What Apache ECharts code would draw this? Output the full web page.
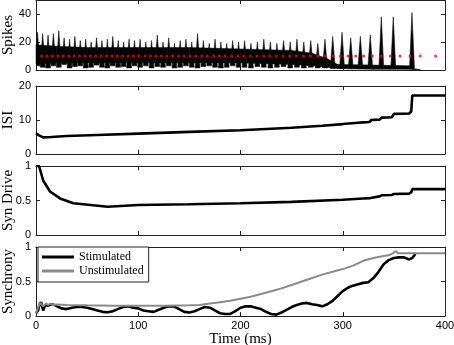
<!DOCTYPE html>
<html>
<head>
<meta charset="utf-8">
<script src="https://cdn.jsdelivr.net/npm/echarts@6/dist/echarts.min.js"></script>
<style>
  html, body { margin: 0; padding: 0; background: #fff; }
  #chart { width: 454px; height: 345px; }
</style>
</head>
<body>
<div id="chart"></div>
<script>
// ---- Spikes panel ----
// one entry per population burst: time (ms), peak count, floor next to it
const spikePeakT = [1.5, 6.5, 11.8, 17, 22.3, 27.5, 32.8, 38, 43.3, 48.6, 53.9, 59.2, 64.5, 69.8, 75.1, 80.4, 85.7, 91, 96.3,
  101.8, 107.4, 113, 118.6, 124.2, 129.8, 135.4, 141, 146.6, 152.3, 158, 163.7, 169.4, 175.1, 180.8, 186.5, 192.3, 198.1,
  204, 210.2, 216.5, 222.8, 229.2, 235.6, 242.1, 248.6, 255.2, 261.9, 268.7, 275.6, 282.6, 290.2,
  299.3, 307.8, 317.2, 326.9, 337.7, 349.4, 367.7];
const spikePeakV = [27, 26, 25, 26, 28, 23, 22, 24, 21, 22, 20, 23, 21, 22, 24, 21, 20, 22, 21,
  22, 20, 21, 25, 20, 23, 19, 21, 22, 20, 26, 21, 19, 22, 20, 19, 21, 20,
  21, 19, 20, 22, 20, 19, 21, 20, 22, 20, 21, 19, 22, 24,
  27, 23, 24, 25, 38, 38, 41];
const spikeBase = [3, 2, 1.5, 3, 2, 4, 1.5, 2.5, 3, 1.5, 2, 3.5, 2, 1.5, 3, 2, 2.5, 1.5, 3,
  2, 3, 1.5, 2.5, 2, 3, 1.5, 2, 3, 2, 1.5, 2.5, 3, 2, 1.5, 2, 3, 2,
  2, 1.5, 2.5, 2, 1.5, 2, 2.5, 1.5, 2, 1.5, 2, 1.5, 1.5, 1,
  1, 1, 1, 1, 1, 1, 1];
const spikeTailT = [371, 376];
const spikeTailV = [0.8, 0];
// dense noisy band of the raster
const bandT = [0, 20, 50, 100, 150, 200, 250, 270, 285, 295, 330, 365, 372];
const bandLo = [4, 5, 5, 5, 5, 5, 4, 3, 2, 1, 0.5, 0.5, 0];
const bandHi = [18, 17, 16, 16, 16, 15, 14, 12, 8, 4, 3.5, 3, 0];
// red threshold markers
const dotT = [5.5, 10.8, 16.1, 21.4, 26.7, 32, 37.2, 42.5, 47.8, 53.1, 58.4, 63.7, 69, 74.3, 79.5, 84.8, 90.1, 95.4,
  100.7, 106.6, 112.1, 117.3, 122.5, 128.1, 133.6, 139.2, 144.7, 150.6, 156.2, 162.1, 167.5, 173.8, 179.3, 184.8, 191.4,
  197.6, 203.2, 209.6, 216.1, 222.7, 228.6, 235.1, 241.6, 248.2, 254.6, 261.5, 268.3, 275.5, 283, 290.5, 297.6,
  305.1, 312.7, 320.5, 328.9, 337.7, 346.5, 356, 365.8, 375.8, 390.9];
const dotLevel = 10;

// ---- ISI panel ----
const isiT = [0, 3, 7, 15, 30, 60, 100, 150, 200, 250, 280, 300, 315, 320, 326, 328, 336, 338, 348, 350, 365, 367, 368, 400];
const isiV = [6.1, 5.5, 4.9, 5.0, 5.3, 5.6, 6.0, 6.5, 7.0, 7.7, 8.3, 8.8, 9.2, 9.3, 9.4, 10.0, 10.1, 10.7, 10.8, 11.8, 11.9, 12.5, 17.2, 17.2];

// ---- Syn Drive panel ----
const synT = [0, 3, 7, 13.7, 23.5, 36.5, 56, 70, 100, 150, 200, 250, 300, 320, 327, 328, 336, 338, 348, 350, 365, 367, 368, 400];
const synV = [1, 1, 0.79, 0.63, 0.53, 0.46, 0.43, 0.41, 0.435, 0.445, 0.46, 0.48, 0.51, 0.53, 0.535, 0.545, 0.56, 0.575, 0.58, 0.595, 0.6, 0.62, 0.665, 0.665];

// ---- Synchrony panel ----
const stimT = [0, 2, 3.5, 5, 7, 9, 12, 15, 18, 22, 25, 30, 35, 40, 45, 50, 55, 60, 65, 70, 75, 80, 85, 90, 95, 100,
  105, 110, 115, 120, 125, 130, 135, 140, 145, 150, 155, 160, 165, 170, 175, 180, 185, 190, 195, 200,
  205, 210, 215, 220, 225, 230, 235, 240, 245, 250, 255, 260, 265, 270, 275, 280, 285, 290, 295, 300,
  305, 310, 315, 320, 325, 330, 335, 340, 345, 350, 355, 360, 365, 368, 371];
const stimV = [0.04, 0.08, 0.17, 0.2, 0.08, 0.16, 0.15, 0.17, 0.16, 0.13, 0.11, 0.1, 0.12, 0.13, 0.13, 0.12, 0.1, 0.08, 0.06, 0.055, 0.07, 0.1, 0.13, 0.14, 0.12, 0.11,
  0.08, 0.07, 0.06, 0.09, 0.12, 0.14, 0.14, 0.1, 0.06, 0.05, 0.07, 0.1, 0.13, 0.12, 0.08, 0.04, 0.03, 0.03, 0.07, 0.12,
  0.14, 0.14, 0.12, 0.1, 0.06, 0.03, 0.02, 0.05, 0.09, 0.13, 0.16, 0.18, 0.19, 0.17, 0.16, 0.14, 0.17, 0.22, 0.29, 0.36,
  0.41, 0.44, 0.46, 0.48, 0.49, 0.55, 0.64, 0.75, 0.81, 0.84, 0.85, 0.85, 0.82, 0.84, 0.9];
const unstimT = [0, 2, 4, 5.5, 7, 8, 10, 12, 14, 17, 20, 30, 50, 75, 100, 125, 150, 160, 170, 180, 190, 200, 210, 220, 230,
  240, 250, 260, 270, 280, 290, 300, 310, 320, 330, 340, 345, 350, 352, 354, 400];
const unstimV = [0.04, 0.12, 0.19, 0.21, 0.14, 0.12, 0.18, 0.16, 0.18, 0.16, 0.165, 0.16, 0.155, 0.15, 0.15, 0.15, 0.155, 0.16, 0.18, 0.2, 0.22, 0.25, 0.28, 0.32, 0.36,
  0.4, 0.45, 0.5, 0.55, 0.6, 0.64, 0.68, 0.73, 0.8, 0.84, 0.87, 0.88, 0.92, 0.94, 0.91, 0.91];

const sans = 'Liberation Sans';
const serif = 'Liberation Serif';
const axisColor = '#222';

function pairs(xs, ys) {
  return xs.map((x, i) => [x, ys[i]]);
}

const spikeHalfWidth = 2.4;

const grids = [
  { left: 36, right: 9, top: 0, height: 70, outerBoundsMode: 'none' },
  { left: 36, right: 9, top: 86, height: 68, outerBoundsMode: 'none' },
  { left: 36, right: 9, top: 166, height: 69, outerBoundsMode: 'none' },
  { left: 36, right: 9, top: 247, height: 69, outerBoundsMode: 'none' }
];

function xAx(g, pos, labels) {
  const ax = {
    type: 'value', gridIndex: g, position: pos, min: 0, max: 400, interval: 100,
    axisLine: { onZero: false, lineStyle: { color: axisColor, width: 1 } },
    axisTick: { inside: true, length: 4, lineStyle: { color: axisColor } },
    axisLabel: { show: labels, color: '#000', fontFamily: sans, fontSize: 11, margin: 4 },
    splitLine: { show: false }
  };
  if (labels) {
    ax.name = 'Time (ms)';
    ax.nameLocation = 'middle';
    ax.nameGap = 11;
    ax.nameTextStyle = { fontFamily: serif, fontSize: 15, color: '#000' };
  }
  return ax;
}

function yAx(g, pos, max, interval, name) {
  const ax = {
    type: 'value', gridIndex: g, position: pos, min: 0, max: max, interval: interval,
    axisLine: { onZero: false, lineStyle: { color: axisColor, width: 1 } },
    axisTick: { inside: true, length: 4, lineStyle: { color: axisColor } },
    axisLabel: {
      show: pos == 'left', color: '#000', fontFamily: sans, fontSize: 11, margin: 5,
      showMinLabel: true, showMaxLabel: true, hideOverlap: false,
      formatter: v => (Math.abs(v / interval - Math.round(v / interval)) < 1e-6 ? String(v) : '')
    },
    splitLine: { show: false }
  };
  if (name) {
    ax.name = name;
    ax.nameLocation = 'middle';
    ax.nameGap = 20;
    ax.nameMoveOverlap = false;
    ax.nameTextStyle = { fontFamily: serif, fontSize: 15, color: '#000' };
  }
  return ax;
}

const yMax = [50, 20, 1, 1];
const yStep = [20, 10, 0.5, 0.5];
const yNames = ['Spikes', 'ISI', 'Syn Drive', 'Synchrony'];

const xAxes = [];
const yAxes = [];
for (let g = 0; g < 4; g++) {
  xAxes.push(xAx(g, 'bottom', g == 3));
  yAxes.push(yAx(g, 'left', yMax[g], yStep[g], yNames[g]));
}
for (let g = 0; g < 4; g++) {
  xAxes.push(xAx(g, 'top', false));
  yAxes.push(yAx(g, 'right', yMax[g], yStep[g], null));
}

let chart = echarts.init(document.getElementById('chart'), null, { renderer: 'canvas' });
chart.setOption({
  animation: false,
  backgroundColor: '#fff',
  grid: grids,
  xAxis: xAxes,
  yAxis: yAxes,
  legend: {
    data: [
      { name: 'Stimulated', icon: 'rect' },
      { name: 'Unstimulated', icon: 'rect' }
    ],
    orient: 'vertical',
    left: 38,
    top: 247,
    itemWidth: 32,
    itemHeight: 3,
    itemGap: 0,
    padding: [3, 5, 4, 4],
    backgroundColor: '#fff',
    borderColor: axisColor,
    borderWidth: 1,
    textStyle: { fontFamily: serif, fontSize: 12, color: '#000', lineHeight: 14 }
  },
  series: [
    // spikes: noisy band drawn as a filled strip
    {
      type: 'custom', xAxisIndex: 0, yAxisIndex: 0, silent: true,
      encode: { x: 0, y: 1 },
      data: bandT.map((t, i) => [t, bandLo[i], bandHi[i]]),
      renderItem: (params, api) => {
        const i = params.dataIndex;
        if (i >= bandT.length - 1) return;
        const pts = [
          api.coord([bandT[i], bandLo[i]]),
          api.coord([bandT[i + 1], bandLo[i + 1]]),
          api.coord([bandT[i + 1], bandHi[i + 1]]),
          api.coord([bandT[i], bandHi[i]])
        ];
        return { type: 'polygon', shape: { points: pts }, style: { fill: '#000', stroke: '#000', lineWidth: 0.5 } };
      }
    },
    // spikes: one filled burst per cycle
    {
      type: 'custom', xAxisIndex: 0, yAxisIndex: 0, silent: true, clip: true,
      encode: { x: 0, y: 1 },
      data: spikePeakT.map((t, i) => [t, spikePeakV[i], spikeBase[i]]),
      renderItem: (params, api) => {
        const t = api.value(0);
        const pts = [
          api.coord([t - spikeHalfWidth, api.value(2)]),
          api.coord([t, api.value(1)]),
          api.coord([t + spikeHalfWidth, api.value(2)])
        ];
        return { type: 'polygon', shape: { points: pts }, style: { fill: '#000', stroke: '#111', lineWidth: 0.6 } };
      }
    },
    {
      type: 'line', xAxisIndex: 0, yAxisIndex: 0, symbol: 'none',
      lineStyle: { color: '#000', width: 1 },
      data: pairs(spikeTailT, spikeTailV)
    },
    {
      type: 'scatter', xAxisIndex: 0, yAxisIndex: 0, symbolSize: 3, z: 5,
      itemStyle: { color: '#ff0000' },
      data: dotT.map(t => [t, dotLevel])
    },
    // ISI
    {
      type: 'line', xAxisIndex: 1, yAxisIndex: 1, symbol: 'none',
      lineStyle: { color: '#000', width: 2.6 },
      data: pairs(isiT, isiV)
    },
    // Syn Drive
    {
      type: 'line', xAxisIndex: 2, yAxisIndex: 2, symbol: 'none',
      lineStyle: { color: '#000', width: 2.6 },
      data: pairs(synT, synV)
    },
    // Synchrony
    {
      name: 'Stimulated', type: 'line', xAxisIndex: 3, yAxisIndex: 3, symbol: 'none',
      lineStyle: { color: '#000', width: 2.6 }, itemStyle: { color: '#000' },
      data: pairs(stimT, stimV)
    },
    {
      name: 'Unstimulated', type: 'line', xAxisIndex: 3, yAxisIndex: 3, symbol: 'none',
      lineStyle: { color: '#8a8a8a', width: 2 }, itemStyle: { color: '#8a8a8a' },
      data: pairs(unstimT, unstimV)
    }
  ]
});
</script>
</body>
</html>
